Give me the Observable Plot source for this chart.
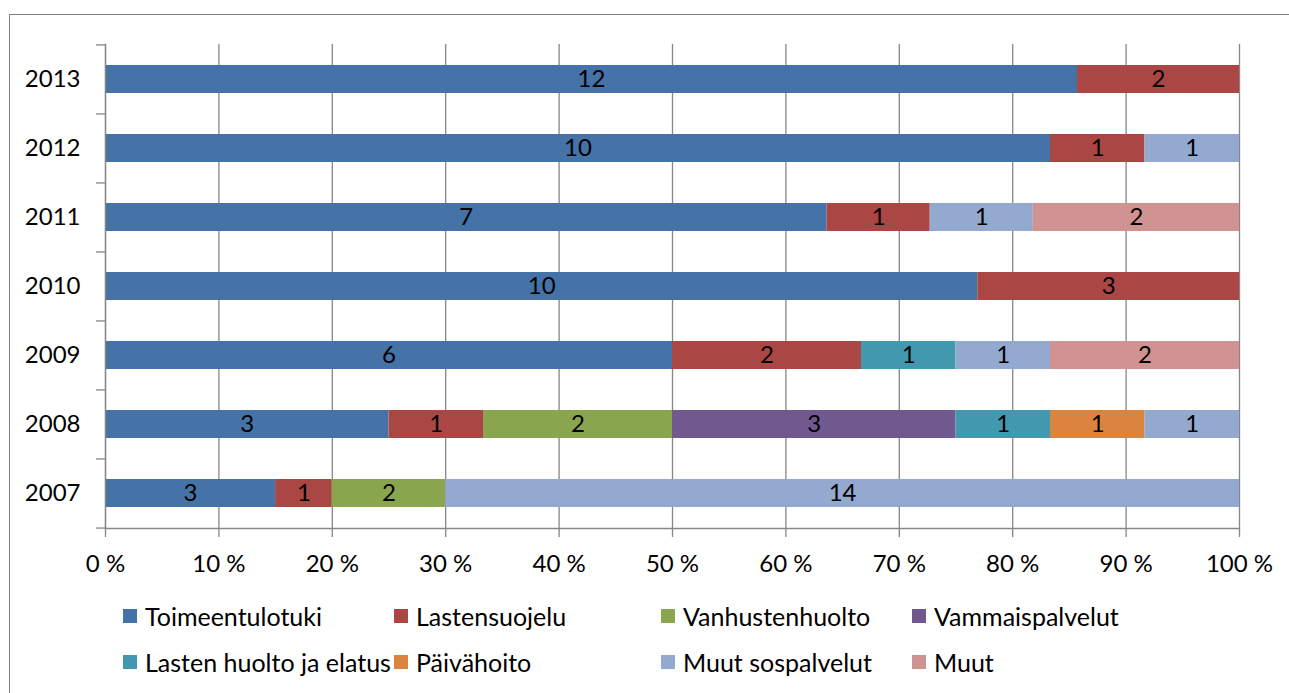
<!DOCTYPE html>
<html>
<head>
<meta charset="utf-8">
<script src="https://cdn.jsdelivr.net/npm/d3@7"></script>
<script src="https://cdn.jsdelivr.net/npm/@observablehq/plot@0.6"></script>
<style>
  html, body { margin: 0; padding: 0; background: #fff; }
  body { width: 1289px; height: 693px; overflow: hidden; position: relative; font-family: Lato, "Open Sans", sans-serif; }
  #frame { position: absolute; left: 9px; top: 14px; width: 1400px; height: 800px; border: 1.5px solid #808080; box-sizing: border-box; }
  #chart { position: absolute; left: 0; top: 0; }
  #legend { position: absolute; left: 123px; top: 601px; display: grid; grid-template-columns: 271px 267px 251px 250px; row-gap: 16px; }
  .item { display: flex; align-items: center; height: 30px; font-size: 25px; color: #000; white-space: nowrap; }
  .sw { width: 14px; height: 14px; margin-right: 8px; flex: none; }
</style>
</head>
<body>
<div id="frame"></div>
<div id="chart"></div>
<div id="legend"></div>
<script>
const years = ["2007", "2008", "2009", "2010", "2011", "2012", "2013"];
const categories = ["Toimeentulotuki", "Lastensuojelu", "Vanhustenhuolto", "Vammaispalvelut",
  "Lasten huolto ja elatus", "Päivähoito", "Muut sospalvelut", "Muut"];
const colors = ["#4572A7", "#AA4643", "#89A54E", "#71588F", "#4198AF", "#DB843D", "#93A9CF", "#D19392"];

// counts per year (2007..2013)
const toimeentulotuki = [3, 3, 6, 10, 7, 10, 12];
const lastensuojelu   = [1, 1, 2, 3, 1, 1, 2];
const vanhustenhuolto = [2, 2, 0, 0, 0, 0, 0];
const vammaispalvelut = [0, 3, 0, 0, 0, 0, 0];
const lastenHuolto    = [0, 1, 1, 0, 0, 0, 0];
const paivahoito      = [0, 1, 0, 0, 0, 0, 0];
const muutSospalvelut = [14, 1, 1, 0, 1, 1, 0];
const muut            = [0, 0, 2, 0, 2, 0, 0];
const xTicks = [0, 0.1, 0.2, 0.3, 0.4, 0.5, 0.6, 0.7, 0.8, 0.9, 1];

const series = [toimeentulotuki, lastensuojelu, vanhustenhuolto, vammaispalvelut,
  lastenHuolto, paivahoito, muutSospalvelut, muut];
const rows = [];
series.forEach((vals, ci) => vals.forEach((v, yi) => {
  if (v > 0) rows.push({year: years[yi], category: categories[ci], value: v});
}));

const marginTop = 44, marginBottom = 62, height = 590;
const step = (height - marginTop - marginBottom) / years.length;
const grey = "#868686";

const chart = Plot.plot({
  width: 1289,
  height,
  marginLeft: 105,
  marginRight: 50,
  marginTop,
  marginBottom,
  style: {fontFamily: "Lato, 'Open Sans', sans-serif", fontSize: "24px", color: "#000", background: "transparent"},
  x: {domain: [0, 1]},
  y: {domain: years.slice().reverse(), paddingInner: 0.6, paddingOuter: 0.3},
  color: {domain: categories, range: colors},
  marks: [
    Plot.ruleX(xTicks, {stroke: grey, strokeWidth: 1.3}),
    Plot.barX(rows, Plot.stackX({x: "value", y: "year", fill: "category", z: "category", offset: "normalize", order: categories})),
    Plot.text(rows, Plot.stackX({x: "value", y: "year", z: "category", text: "value", offset: "normalize", order: categories, fill: "#000", fontSize: 24})),
    Plot.frame({anchor: "bottom", stroke: grey, strokeWidth: 1.3}),
    Plot.frame({anchor: "left", stroke: grey, strokeWidth: 1.3}),
    Plot.axisY({tickSize: 0, tickPadding: 25, fontSize: 24, label: null, fill: "#000"}),
    Plot.axisY({ticks: years, text: null, tickSize: 9, dy: -step / 2, stroke: grey, strokeWidth: 1.3, label: null}),
    Plot.axisY({ticks: ["2007"], text: null, tickSize: 9, dy: step / 2, stroke: grey, strokeWidth: 1.3, label: null}),
    Plot.axisX({ticks: xTicks, tickSize: 9, tickPadding: 17, fontSize: 24, stroke: grey, strokeWidth: 1.3,
      tickFormat: d => Math.round(d * 100) + " %", label: null, fill: "#000"})
  ]
});
document.getElementById("chart").appendChild(chart);

const legend = document.getElementById("legend");
categories.forEach((name, i) => {
  const it = document.createElement("div");
  it.className = "item";
  const sw = document.createElement("span");
  sw.className = "sw";
  sw.style.background = colors[i];
  const tx = document.createElement("span");
  tx.textContent = name;
  it.appendChild(sw);
  it.appendChild(tx);
  legend.appendChild(it);
});
</script>
</body>
</html>
